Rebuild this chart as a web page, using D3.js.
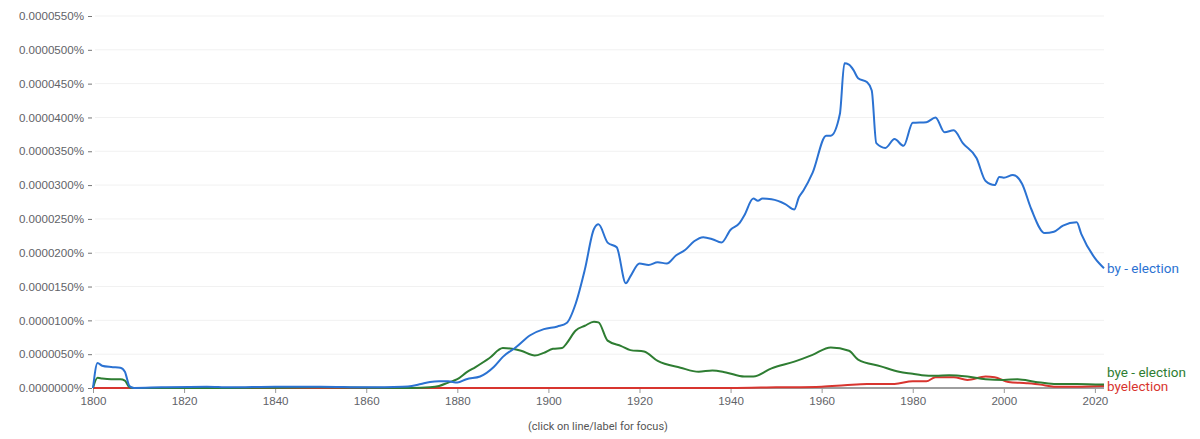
<!DOCTYPE html>
<html>
<head>
<meta charset="utf-8">
<script src="https://cdn.jsdelivr.net/npm/d3@7"></script>
<style>
  body { margin: 0; background: #fff; }
  svg { display: block; font-family: Roboto, "Open Sans", sans-serif; }
</style>
</head>
<body>
<svg id="chart"></svg>
<script>
// values are in units of 0.0000001 %
const byYears = [1800,1801,1802,1804,1806,1807,1808,1809,1815,1825,1830,1840,1850,1860,1868,1870,1872,1874,1876,1878,1880,1882,1885,1888,1890,1893,1896,1899,1902,1904,1906,1908,1910,1911,1913,1915,1917,1918,1920,1922,1924,1926,1928,1930,1932,1934,1936,1938,1940,1942,1943,1945,1946,1947,1949,1952,1954,1955,1956,1958,1961,1962,1964,1965,1966,1967,1968,1970,1971,1972,1974,1976,1978,1980,1983,1985,1987,1989,1991,1994,1996,1998,1999,2000,2002,2004,2006,2009,2011,2013,2016,2017,2020,2022];
const byValues = [0,37,33,31,30,24,3,0,1,2,1,2,2,1,2,3,6,9,10,10,8,13,17,31,46,61,78,87,91,96,125,175,235,242,215,208,155,165,184,182,186,184,196,204,217,223,220,215,234,244,255,280,277,280,279,272,264,282,292,318,373,373,405,480,478,470,458,452,440,362,355,368,358,392,393,400,378,381,362,340,306,300,312,311,315,302,265,229,231,240,245,228,192,177];

const byeYears = [1800,1801,1802,1804,1806,1807,1808,1809,1830,1850,1870,1874,1876,1878,1880,1882,1884,1887,1890,1892,1894,1897,1899,1901,1903,1904,1906,1908,1910,1911,1913,1916,1918,1921,1924,1929,1933,1936,1939,1943,1945,1949,1954,1958,1962,1966,1968,1973,1977,1980,1982,1985,1988,1992,1996,2000,2003,2007,2011,2016,2022];
const byeValues = [0,15,14,13,13,11,1,0,0,1,0,1,3,8,13,23,31,44,59,58,55,48,52,58,59,66,85,92,98,97,70,62,56,54,40,30,24,26,23,17,17,29,39,49,60,55,42,32,24,21,19,18,19,17,13,12,13,9,6,6,5];

const byelectionYears = [1800,1940,1950,1960,1965,1970,1976,1980,1983,1985,1989,1992,1996,1998,2001,2005,2008,2011,2016,2022];
const byelectionValues = [0,0,1,2,4,6,6,10,10,16,16,12,17,16,9,7,5,2,2,3];

const seriesNames = ["by - election", "bye - election", "byelection"];
const seriesColors = ["#2b72d2", "#2e7d32", "#d8352f"];
const yTicks = [0,50,100,150,200,250,300,350,400,450,500,550];
const xTicks = [1800,1820,1840,1860,1880,1900,1920,1940,1960,1980,2000,2020];

const width = 1200;
const height = 439;
const marginTop = 16;
const marginRight = 96;
const marginBottom = 51;
const marginLeft = 93;

const series = [
  {name: seriesNames[0], color: seriesColors[0], pts: byYears.map((d, i) => [d, byValues[i]])},
  {name: seriesNames[1], color: seriesColors[1], pts: byeYears.map((d, i) => [d, byeValues[i]])},
  {name: seriesNames[2], color: seriesColors[2], pts: byelectionYears.map((d, i) => [d, byelectionValues[i]])}
];

const x = d3.scaleLinear()
      .domain([1800, 2022])
      .range([marginLeft, width - marginRight]);
const y = d3.scaleLinear()
      .domain([0, 550])
      .range([height - marginBottom, marginTop]);

const svg = d3.select("#chart")
      .attr("width", width)
      .attr("height", height)
      .attr("viewBox", [0, 0, width, height]);

// grid
svg.append("g")
  .selectAll("line")
  .data(yTicks.slice(1))
  .join("line")
    .attr("x1", marginLeft + 2)
    .attr("x2", width - marginRight)
    .attr("y1", d => y(d))
    .attr("y2", d => y(d))
    .attr("stroke", "#f1f1f1")
    .attr("stroke-width", 1);

// y axis
svg.append("g")
  .attr("transform", `translate(${marginLeft},0)`)
  .call(d3.axisLeft(y).tickValues(yTicks).tickSize(6).tickPadding(3)
        .tickFormat(d => (d * 1e-7).toFixed(7) + "%"))
  .call(g => g.select(".domain").remove())
  .call(g => g.selectAll(".tick line").attr("stroke", "#777").attr("x1", -1).attr("x2", -5))
  .call(g => g.selectAll("text").attr("fill", "#5f6368").attr("font-size", 11.6));

// x axis
svg.append("g")
  .attr("transform", `translate(0,${height - marginBottom})`)
  .call(d3.axisBottom(x).tickValues(xTicks).tickSize(5).tickPadding(4).tickFormat(d3.format("d")))
  .call(g => g.select(".domain").remove())
  .call(g => g.selectAll(".tick line").attr("stroke", "#999"))
  .call(g => g.selectAll("text").attr("fill", "#5f6368").attr("font-size", 11.6));

svg.append("line")
  .attr("x1", marginLeft)
  .attr("x2", width - marginRight)
  .attr("y1", y(0))
  .attr("y2", y(0))
  .attr("stroke", "#9e9e9e")
  .attr("stroke-width", 2);

const line = d3.line()
      .x(d => x(d[0]))
      .y(d => y(d[1]))
      .curve(d3.curveMonotoneX);

// draw red first so the others lie over it
[2, 1, 0].forEach(i => {
  svg.append("path")
    .attr("fill", "none")
    .attr("stroke", series[i].color)
    .attr("stroke-width", 2)
    .attr("stroke-linejoin", "round")
    .attr("d", line(series[i].pts));
});

// end labels
const lastY = series.map(s => y(s.pts[s.pts.length - 1][1]));
const labelY = [lastY[0], Math.min(lastY[1], lastY[2] - 14), lastY[2]];
series.forEach((s, i) => {
  svg.append("text")
    .attr("x", width - marginRight + 3)
    .attr("y", labelY[i])
    .attr("dy", "0.35em")
    .attr("fill", s.color)
    .attr("font-size", 13.5)
    .text(s.name);
});

svg.append("text")
  .attr("x", 598)
  .attr("y", 426)
  .attr("dy", "0.35em")
  .attr("text-anchor", "middle")
  .attr("fill", "#555")
  .attr("font-size", 11)
  .text("(click on line/label for focus)");
</script>
</body>
</html>
